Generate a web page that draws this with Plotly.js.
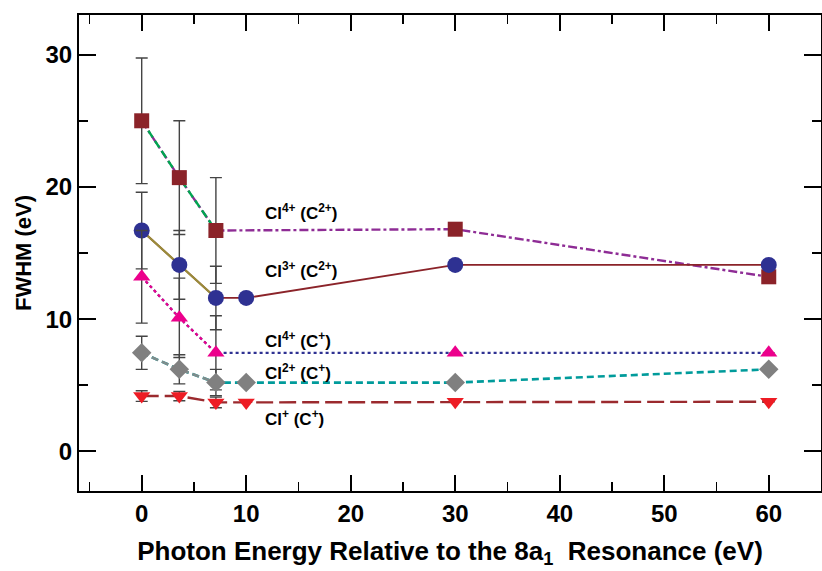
<!DOCTYPE html>
<html><head><meta charset="utf-8">
<script src="https://cdn.plot.ly/plotly-3.0.1.min.js"></script>
<style>html,body{margin:0;padding:0;background:#fff}#chart{width:822px;height:571px}</style>
</head><body><div id="chart"></div>
<script>
// Photon energy (eV) relative to the 8a1 resonance
const xAll = [0, 3.6, 7.1, 30, 60];
const xAllB = [0, 3.6, 7.1, 10, 30, 60];
const xEarly = [0, 3.6, 7.1];

// Cl4+ (C2+)
const cl4c2 = [25.0, 20.7, 16.7, 16.8, 13.2];
const cl4c2Err = [4.75, 4.3, 4.0, null, null];
// Cl3+ (C2+)
const cl3c2 = [16.7, 14.1, 11.6, 11.6, 14.1, 14.1];
const cl3c2Err = [2.9, 2.6, 2.4, null, null, null];
// Cl4+ (C+)
const cl4c1 = [13.2, 10.1, 7.45, 7.45, 7.45];
const cl4c1Err = [3.5, 3.0, 2.8, null, null];
// Cl2+ (C+)
const cl2c1 = [7.45, 6.2, 5.2, 5.2, 5.2, 6.2];
const cl2c1Err = [1.25, 1.1, 1.0, null, null, null];
// Cl+ (C+)
const cl1c1 = [4.18, 4.18, 3.7, 3.7, 3.75, 3.75];
const cl1c1Err = [0.4, 0.35, 0.4, null, null, null];

const labelText = ['Cl<sup>4+</sup> (C<sup>2+</sup>)', 'Cl<sup>3+</sup> (C<sup>2+</sup>)', 'Cl<sup>4+</sup> (C<sup>+</sup>)', 'Cl<sup>2+</sup> (C<sup>+</sup>)', 'Cl<sup>+</sup> (C<sup>+</sup>)'];
const labelX = [11.6, 11.6, 11.6, 11.6, 11.6];
const labelY = [18.1, 13.7, 8.4, 6.0, 2.5];

const errStyle = (arr) => ({type:'data', array:arr, visible:true, color:'#444', thickness:1.4, width:6});

const traces = [
  // main lines
  {x:xAll, y:cl4c2, mode:'lines', line:{color:'#8e2c95', width:2.4, dash:'dashdot'}},
  {x:xEarly, y:cl4c2.slice(0,3), mode:'lines', line:{color:'#00a651', width:2.4, dash:'8px,4px'}},
  {x:xAllB, y:cl3c2, mode:'lines', line:{color:'#8b2329', width:1.8}},
  {x:xEarly, y:cl3c2.slice(0,3), mode:'lines', line:{color:'#9a8c3a', width:2.2}},
  {x:xAll, y:cl4c1, mode:'lines', line:{color:'#2e3192', width:2.2, dash:'dot'}},
  {x:xEarly, y:cl4c1.slice(0,3), mode:'lines', line:{color:'#ec008c', width:2.2, dash:'dot'}},
  {x:xAllB, y:cl2c1, mode:'lines', line:{color:'#009b9b', width:2.6, dash:'7px,4px'}},
  {x:xEarly, y:cl2c1.slice(0,3), mode:'lines', line:{color:'#7f8c8c', width:2.6, dash:'7px,4px'}},
  {x:xAllB, y:cl1c1, mode:'lines', line:{color:'#9b2a2e', width:2.4, dash:'17px,6px'}},
  // markers with error bars
  {x:xAll, y:cl4c2, mode:'markers', error_y:errStyle(cl4c2Err), marker:{symbol:'square', size:15, color:'#8b2329'}},
  {x:xAllB, y:cl3c2, mode:'markers', error_y:errStyle(cl3c2Err), marker:{symbol:'circle', size:16, color:'#2e3192'}},
  {x:xAll, y:cl4c1, mode:'markers', error_y:errStyle(cl4c1Err), marker:{symbol:'triangle-up', size:15, color:'#ec008c'}},
  {x:xAllB, y:cl2c1, mode:'markers', error_y:errStyle(cl2c1Err), marker:{symbol:'diamond', size:15, color:'#808080'}},
  {x:xAllB, y:cl1c1, mode:'markers', error_y:errStyle(cl1c1Err), marker:{symbol:'triangle-down', size:15, color:'#ed1c24'}}
];

const font = 'Liberation Sans Narrow, Liberation Sans, Arial, sans-serif';
const annotations = labelText.map((t,i)=>({x:labelX[i], y:labelY[i], text:t, showarrow:false, xanchor:'left', yanchor:'middle', font:{family:font, size:17, color:'#000', weight:'bold'}}));

const axisCommon = {
  showline:true, linewidth:2, linecolor:'#000', mirror:'allticks', ticks:'inside', tickwidth:2,
  tickcolor:'#000', showgrid:false, zeroline:false,
  tickfont:{family:font, size:24, color:'#000', weight:'bold'}
};

const layout = {
  width:822, height:571,
  margin:{l:79, r:1, t:15, b:80},
  paper_bgcolor:'#fff', plot_bgcolor:'#fff',
  showlegend:false,
  annotations:annotations,
  xaxis:Object.assign({}, axisCommon, {
    range:[-6, 65], tickvals:[0,10,20,30,40,50,60], ticklen:16,
    minor:{dtick:5, tick0:0, ticklen:9, ticks:'inside', tickwidth:1.5, tickcolor:'#000'},
    title:{text:'Photon Energy Relative to the 8a<sub>1</sub>  Resonance (eV)', standoff:16, font:{family:font, size:26, color:'#000', weight:'bold'}}
  }),
  yaxis:Object.assign({}, axisCommon, {
    range:[-3, 33], tickvals:[0,10,20,30], ticklen:17,
    minor:{dtick:5, tick0:0, ticklen:9, ticks:'inside', tickwidth:1.5, tickcolor:'#000'},
    title:{text:'FWHM (eV)', standoff:8, font:{family:font, size:22, color:'#000', weight:'bold'}}
  })
};

Plotly.newPlot('chart', traces, layout, {displayModeBar:false, staticPlot:true});
</script></body></html>
